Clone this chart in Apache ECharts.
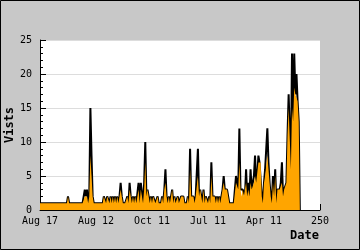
<!DOCTYPE html>
<html>
<head>
<meta charset="utf-8">
<script src="https://cdn.jsdelivr.net/npm/echarts@6/dist/echarts.min.js"></script>
<style>
html,body{margin:0;padding:0;background:#c8c8c8;}
#c{width:360px;height:250px;}
</style>
</head>
<body>
<div id="c"></div>
<script>
// X tick labels at 0,50,100,150,200,250
var xTickLabels = ['Aug 17', 'Aug 12', 'Oct 11', 'Jul 11', 'Apr 11', '250'];

// Visits (black line), one value per day index
var visits = [
  1,1,1,1,1,1,1,1,1,1,1,1,1,1,1,1,1,1,1,1,1,1,1,1,1,
  2,
  1,1,1,1,1,1,1,1,1,1,1,1,1,1,
  3,2,3,1,2,15,8,2,
  1,1,1,1,1,1,1,1,1,
  2,2,1,2,2,1,2,1,2,1,2,1,2,1,
  2,4,2,1,1,1,1,2,1,4,2,1,2,1,2,1,1,
  4,1,4,4,1,4,10,2,3,3,1,
  2,1,2,2,1,1,2,1,1,1,2,1,
  3,6,2,1,2,1,2,3,1,2,1,1,2,1,1,
  2,2,2,1,1,1,2,1,9,
  2,2,2,1,2,2,9,
  2,3,2,1,3,1,2,2,1,2,1,7,
  2,2,2,1,2,1,2,1,1,3,5,3,3,3,2,
  1,1,1,1,1,1,
  5,5,3,12,3,3,3,3,
  2,6,2,4,2,6,3,3,5,8,4,5,8,7,7,2,1,
  4,6,6,12,7,4,2,1,5,2,6,1,3,3,3,4,7,2,3,
  3,4,11,17,17,6,23,13,23,17,20,16,13,0
];

// Second series (orange area)
var uniques = [
  1,1,1,1,1,1,1,1,1,1,1,1,1,1,1,1,1,1,1,1,1,1,1,1,1,
  2,
  1,1,1,1,1,1,1,1,1,1,1,1,1,1,
  2,2,2,1,2,8,8,2,
  1,1,1,1,1,1,1,1,1,
  2,2,1,2,2,1,2,1,2,1,2,1,2,1,
  2,3,2,1,1,1,1,2,1,3,2,1,2,1,2,1,1,
  3,1,3,3,1,3,7,2,3,3,1,
  2,1,2,2,1,1,2,1,1,1,2,1,
  3,4,2,1,2,1,2,3,1,2,1,1,2,1,1,
  2,2,2,1,1,1,2,1,6,
  2,2,2,1,2,2,5,
  2,3,2,1,3,1,2,2,1,2,1,5,
  2,2,2,1,2,1,2,1,1,3,4,3,3,3,2,
  1,1,1,1,1,1,
  4,4,3,7,3,2,3,2,
  2,4,2,3,2,4,3,3,4,5,4,4,7,7,7,2,1,
  4,5,5,8,6,4,2,1,4,2,5,1,3,3,3,3,4,2,3,
  3,4,11,15,15,6,15,13,18,17,17,16,13,0
];

var chart = echarts.init(document.getElementById('c'), null, {renderer: 'canvas'});
var mono = 'DejaVu Sans Mono';
chart.setOption({
  animation: false,
  backgroundColor: '#c8c8c8',
  grid: {left: 40, right: 40, top: 40, bottom: 40, show: true, backgroundColor: '#ffffff', borderWidth: 0},
  xAxis: {
    type: 'value', min: 0, max: 250, interval: 50,
    axisLine: {show: true, lineStyle: {color: '#000', width: 1}},
    axisTick: {show: true, inside: true, length: 6, lineStyle: {color: '#000'}},
    axisLabel: {
      color: '#000', fontFamily: mono, fontSize: 10, margin: 6,
      formatter: function (v) { return xTickLabels[Math.round(v / 50)]; }
    },
    splitLine: {show: false}
  },
  yAxis: {
    type: 'value', min: 0, max: 25, interval: 5,
    axisLine: {show: true, lineStyle: {color: '#000', width: 1}},
    axisTick: {show: true, inside: true, length: 6, lineStyle: {color: '#000'}},
    minorTick: {show: true, splitNumber: 5, length: 3, lineStyle: {color: '#000'}},
    axisLabel: {color: '#000', fontFamily: mono, fontSize: 10, margin: 8},
    splitLine: {show: true, lineStyle: {color: '#dddddd', width: 1}}
  },
  series: [
    {
      type: 'line', name: 'Visits', showSymbol: false, z: 2,
      lineStyle: {color: '#000', width: 2},
      data: visits.map(function (v, i) { return [i, v]; })
    },
    {
      type: 'line', name: 'Unique', showSymbol: false, z: 3,
      lineStyle: {width: 0, opacity: 0},
      areaStyle: {color: '#ffa500', opacity: 1},
      data: uniques.map(function (v, i) { return [i, v]; })
    }
  ],
  graphic: [
    {
      type: 'text', x: 10, y: 125, rotation: Math.PI / 2,
      style: {text: 'Vists', fontFamily: mono, fontWeight: 'bold', fontSize: 12, fill: '#000', align: 'center', verticalAlign: 'middle'}
    },
    {
      type: 'text', x: 319, y: 236,
      style: {text: 'Date', fontFamily: mono, fontWeight: 'bold', fontSize: 12, fill: '#000', align: 'right', verticalAlign: 'middle'}
    },
    {
      type: 'rect', shape: {x: 0.5, y: 0.5, width: 359, height: 249},
      style: {fill: 'none', stroke: '#000', lineWidth: 1}, silent: true
    }
  ]
});
</script>
</body>
</html>
